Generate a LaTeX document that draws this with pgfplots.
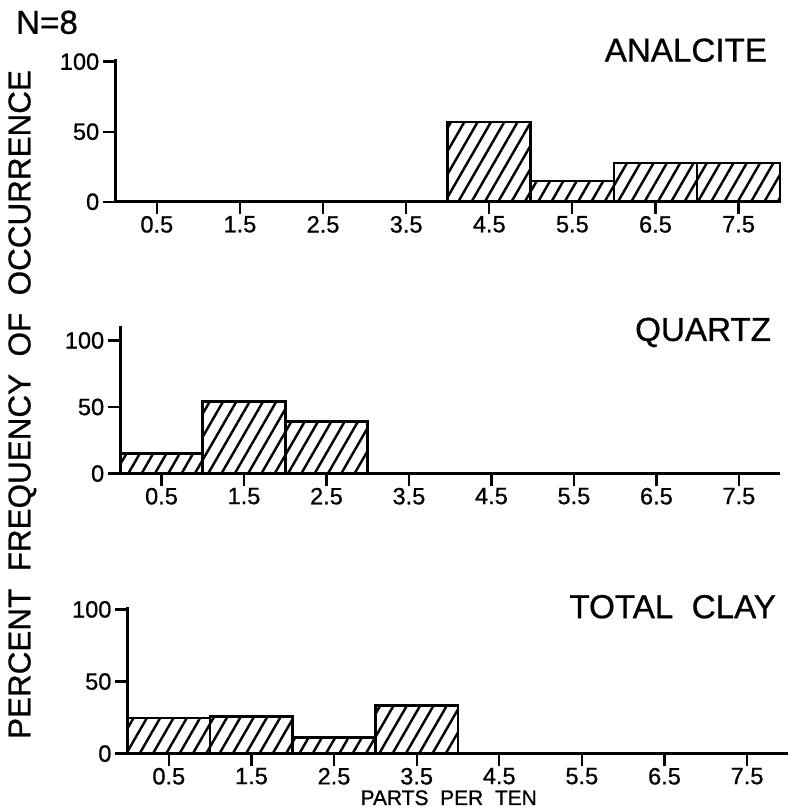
\documentclass[border=0pt]{standalone}
\usepackage{fontspec}
\setmainfont{Liberation Sans}[FakeBold=0.8]
\usepackage{pgfplots}
\pgfplotsset{compat=1.18}
\usetikzlibrary{patterns.meta}

\pgfplotsset{
  panel/.style={
    scale only axis,
    axis lines*=left,
    xmin=0, xmax=8, ymin=0,
    xtick={0.5,1.5,2.5,3.5,4.5,5.5,6.5,7.5},
    xticklabels={0.5,1.5,2.5,3.5,4.5,5.5,6.5,7.5},
    ytick={0,50,100},
    yticklabels={0,50,100},
    tick align=outside,
    major tick length=7pt,
    axis line style={line width=1.5pt},
    every tick/.style={black, line width=1.3pt},
    tick label style={font=\fontsize{13.5}{15}\selectfont},
    xticklabel style={inner sep=1pt},
    yticklabel style={inner sep=2pt},
    anchor=south west,
    clip=false,
  },
  hist/.style={
    ybar interval, draw=black, line width=1.5pt,
    pattern={Lines[angle=60, distance=6.6pt, line width=1.4pt]},
    pattern color=black,
  },
}

\begin{document}
\begin{tikzpicture}
\path (0,0) rectangle (15.88,-16.22);

% analcite
\begin{axis}[panel, at={(2.32cm,-4.06cm)}, width=13.38cm, height=2.876cm, ymax=102]
\addplot[hist] coordinates {(4,57) (5,14.7) (6,27.7) (7,27.7) (8,27.7)};
\end{axis}

% quartz
\begin{axis}[panel, at={(2.42cm,-9.53cm)}, width=13.28cm, height=2.974cm, ymax=111]
\addplot[hist] coordinates {(0,15) (1,54.3) (2,39) (3,39)};
\end{axis}

% total clay
\begin{axis}[panel, at={(2.566cm,-15.166cm)}, width=13.3cm, height=2.96cm, ymax=102]
\addplot[hist] coordinates {(0,24.6) (1,25.7) (2,11) (3,33.3) (4,33.3)};
\end{axis}

\node[anchor=base west, font=\fontsize{19}{22}\selectfont] at (0.2,-0.68) {N=8};
\node[anchor=base east, font=\fontsize{19}{22}\selectfont] at (15.56,-1.24) {ANALCITE};
\node[anchor=base east, font=\fontsize{19}{22}\selectfont] at (15.64,-6.86) {QUARTZ};
\node[anchor=base east, font=\fontsize{19}{22}\selectfont] at (15.74,-12.44) {TOTAL\ \ CLAY};
\node[anchor=base, font=\fontsize{12}{14}\selectfont] at (9.03,-16.2) {PARTS\ \ PER\ \ TEN};
\node[rotate=90, font=\fontsize{18}{20}\selectfont] at (0.45,-8.14) {PERCENT\ \ FREQUENCY\ \ OF\ \ OCCURRENCE};
\end{tikzpicture}
\end{document}
